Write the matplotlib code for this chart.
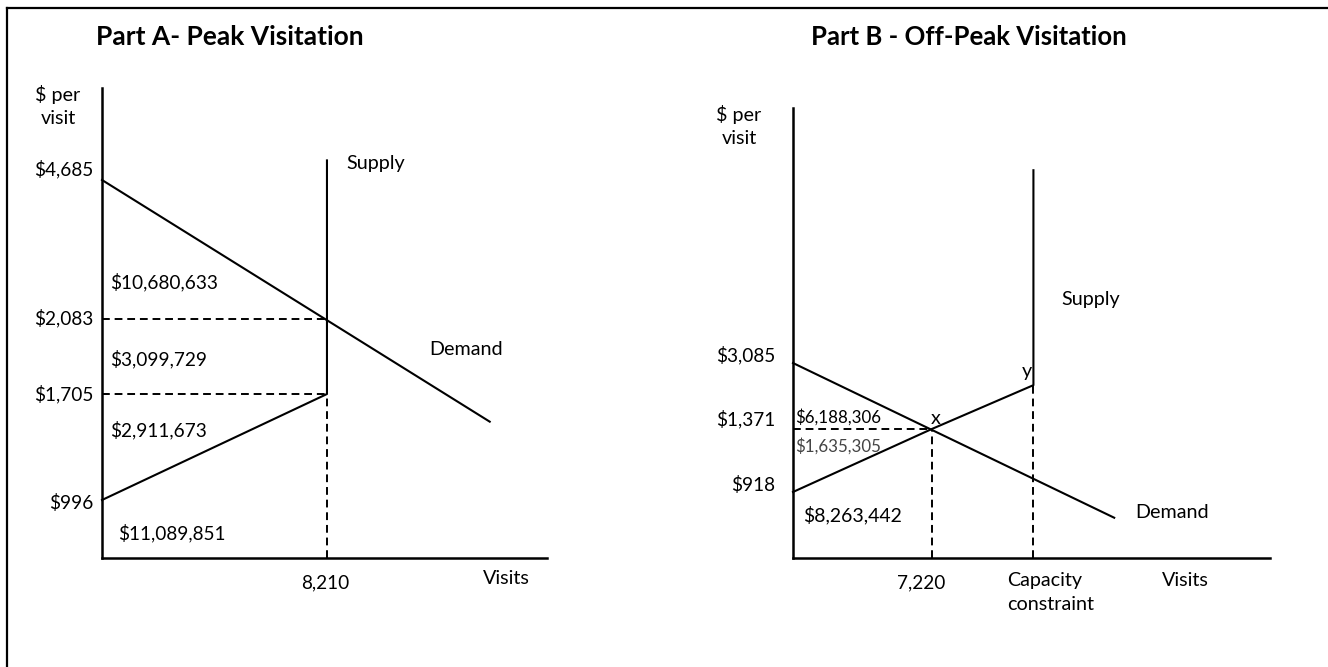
import numpy as np
import matplotlib.pyplot as plt
from matplotlib.lines import Line2D

plt.rcParams['font.family'] = ['Lato', 'DejaVu Sans']

W, H = 1328, 667

# ---- Part A: peak visitation ----
peak_prices = [996, 1705, 2083, 4685]
peak_price_labels = ['$996', '$1,705', '$2,083', '$4,685']
peak_q = 8210
peak_q_label = '8,210'
peak_demand_q = [0, 14150]
peak_demand_p = [4685, 1520]
peak_supply_q = [0, 8210, 8210]
peak_supply_p = [996, 1705, 5050]
peak_areas = ['$10,680,633', '$3,099,729', '$2,911,673', '$11,089,851']
peak_xmax, peak_ymax = 16240, 6400

# ---- Part B: off-peak visitation ----
off_prices = [918, 1371, 3085]
off_price_labels = ['$918', '$1,371', '$3,085']
off_q = 7220
off_q_label = '7,220'
off_capacity = 12500
off_demand_q = [0, 16700]
off_demand_p = [3085, 560]
off_supply_q = [0, 7220, 12500, 12500]
off_supply_p = [918, 1371, 2510, 5780]
off_areas = ['$6,188,306', '$1,635,305', '$8,263,442']
off_xmax, off_ymax = 24800, 6650

# schematic (not to scale) spacing of the price axis, as share of axis height
peak_spacing = [0.0, 0.1234, 0.3489, 0.5085, 0.8043, 1.0]
off_spacing = [0.0, 0.1467, 0.2867, 0.4333, 1.0]


def schematic_scale(ax, prices, ymax, spacing):
    knots = np.array([0] + list(prices) + [ymax], dtype=float)
    frac = np.array(spacing) * ymax

    def fwd(p):
        return np.interp(p, knots, frac)

    def inv(v):
        return np.interp(v, frac, knots)

    ax.set_yscale('function', functions=(fwd, inv))
    ax.set_ylim(0, ymax)


def px(x, y):
    return x / W, 1 - y / H


fig = plt.figure(figsize=(W / 100, H / 100), dpi=100)

axA = fig.add_axes([102 / W, 1 - 558 / H, 445 / W, 470 / H])
axB = fig.add_axes([793 / W, 1 - 558 / H, 477 / W, 450 / H])

schematic_scale(axA, peak_prices, peak_ymax, peak_spacing)
schematic_scale(axB, off_prices, off_ymax, off_spacing)
axA.set_xlim(0, peak_xmax)
axB.set_xlim(0, off_xmax)

for ax in (axA, axB):
    for s in ('top', 'right'):
        ax.spines[s].set_visible(False)
    for s in ('left', 'bottom'):
        ax.spines[s].set_linewidth(1.8)
        ax.spines[s].set_color('black')
    ax.set_xticks([])
    ax.set_yticks([])
    ax.minorticks_off()
    ax.patch.set_alpha(0)

lw = 1.5
dash = dict(color='black', lw=1.4, ls=(0, (4, 2.5)))

# Part A lines
axA.plot(peak_demand_q, peak_demand_p, color='black', lw=lw, clip_on=False)
axA.plot(peak_supply_q, peak_supply_p, color='black', lw=lw, clip_on=False)
axA.plot([0, peak_q], [peak_prices[2]] * 2, **dash)
axA.plot([0, peak_q], [peak_prices[1]] * 2, **dash)
axA.plot([peak_q, peak_q], [0, peak_prices[1]], **dash)

# Part B lines
axB.plot(off_demand_q, off_demand_p, color='black', lw=lw, clip_on=False)
axB.plot(off_supply_q, off_supply_p, color='black', lw=lw, clip_on=False)
axB.plot([0, off_q], [off_prices[1]] * 2, **dash)
axB.plot([off_q, off_q], [0, off_prices[1]], **dash)
axB.plot([off_capacity, off_capacity], [0, off_supply_p[2]], **dash)

fs = 13.7
fw = 14.2  # words come out a bit narrower than the original font

# price labels next to the vertical axes
nudgeA = [-2, 0, 1, 8]
for p, lab, dy in zip(peak_prices, peak_price_labels, nudgeA):
    axA.annotate(lab, (0, p), xytext=(-6, dy), textcoords='offset points',
                 ha='right', va='center', fontsize=fs)
nudgeB = [5, 7, 6]
for p, lab, dy in zip(off_prices, off_price_labels, nudgeB):
    axB.annotate(lab, (0, p), xytext=(-13, dy), textcoords='offset points',
                 ha='right', va='center', fontsize=fs)

# quantity labels under the horizontal axes
axA.annotate(peak_q_label, (peak_q, 0), xytext=(-1, -18), textcoords='offset points',
             ha='center', va='center', fontsize=fs)
axB.annotate(off_q_label, (off_q, 0), xytext=(-8, -18), textcoords='offset points',
             ha='center', va='center', fontsize=fs)
axB.annotate('Capacity\nconstraint', (off_capacity, 0), xytext=(-19, -10),
             textcoords='offset points', ha='left', va='top', fontsize=fw,
             linespacing=1.5)

# titles and axis captions
fig.text(*px(230, 37), 'Part A- Peak Visitation', ha='center', va='center',
         fontsize=19, fontweight='bold')
fig.text(*px(969, 37), 'Part B - Off-Peak Visitation', ha='center', va='center',
         fontsize=18.5, fontweight='bold')
fig.text(*px(58, 106), '$ per\nvisit', ha='center', va='center', fontsize=fw,
         linespacing=1.4)
fig.text(*px(739, 126), '$ per\nvisit', ha='center', va='center', fontsize=fw,
         linespacing=1.5)
fig.text(*px(483, 578), 'Visits', ha='left', va='center', fontsize=fw)
fig.text(*px(1162, 580), 'Visits', ha='left', va='center', fontsize=fw)
fig.text(*px(346, 163), 'Supply', ha='left', va='center', fontsize=fw)
fig.text(*px(1061, 300), 'Supply', ha='left', va='center', fontsize=fw)
fig.text(*px(429, 350), 'Demand', ha='left', va='center', fontsize=fw)
fig.text(*px(1135, 513), 'Demand', ha='left', va='center', fontsize=fw)
fig.text(*px(936, 418), 'x', ha='center', va='center', fontsize=fw)
fig.text(*px(1027, 371), 'y', ha='center', va='center', fontsize=fw)

# surplus / revenue areas
areaA_pos = [(110, 282), (110, 359), (110, 430), (118, 533)]
for (x, y), lab in zip(areaA_pos, peak_areas):
    fig.text(*px(x, y), lab, ha='left', va='center', fontsize=fs)
fig.text(*px(795, 417), off_areas[0], ha='left', va='center', fontsize=12.2)
fig.text(*px(795, 446), off_areas[1], ha='left', va='center', fontsize=12.2,
         color='#444444')
fig.text(*px(803, 515), off_areas[2], ha='left', va='center', fontsize=14)

# outer frame (left and top edges visible)
fig.add_artist(Line2D([7 / W, 7 / W], [0, 1 - 8 / H], color='black', lw=1.6))
fig.add_artist(Line2D([7 / W, 1], [1 - 8 / H, 1 - 8 / H], color='black', lw=1.6))

fig.savefig('out.png', dpi=100)
